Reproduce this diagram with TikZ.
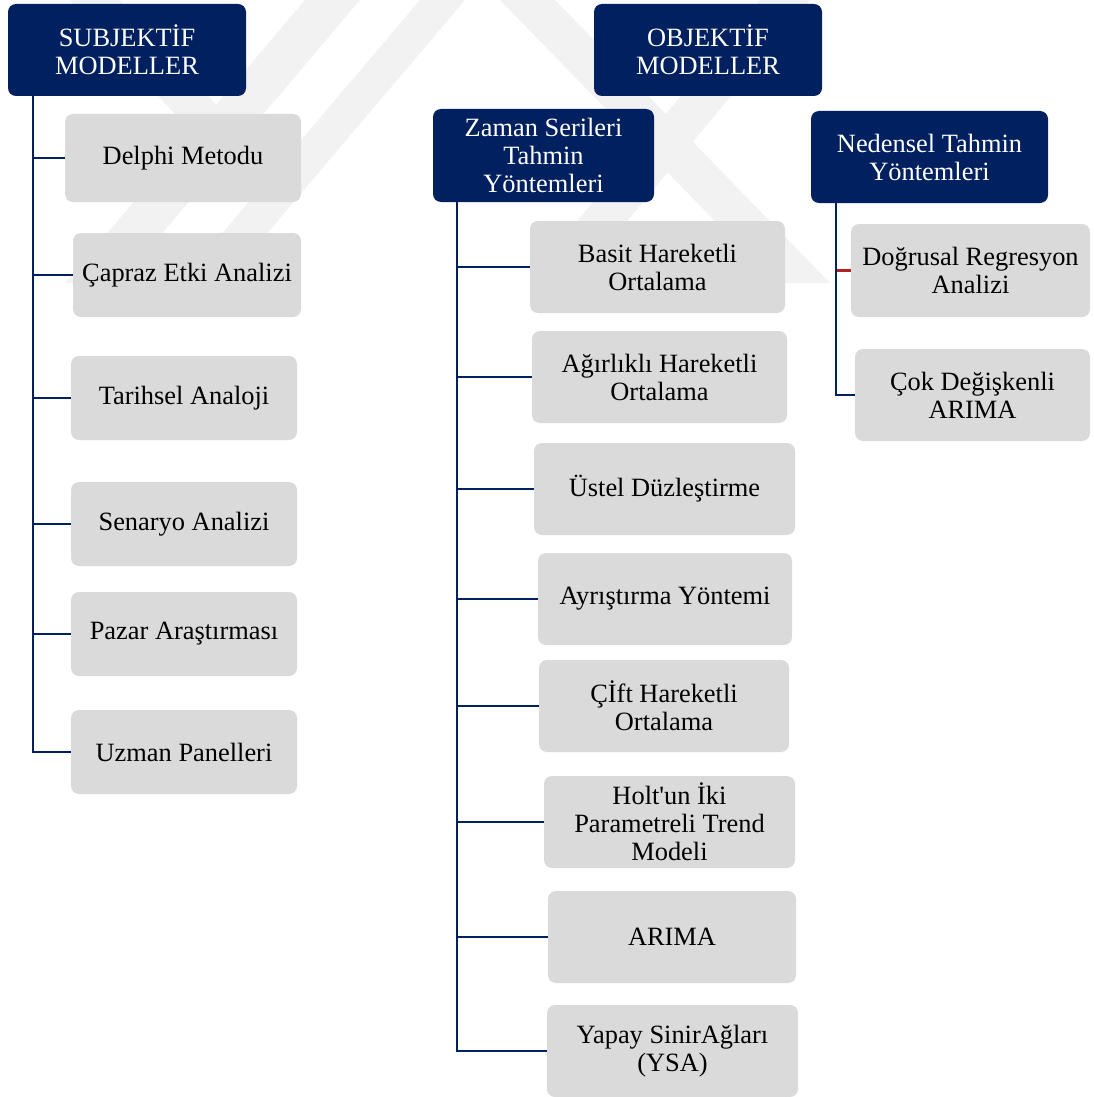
\documentclass[tikz,border=0pt]{standalone}
\usepackage{fontspec}
\setmainfont{Liberation Serif}
\definecolor{navy}{HTML}{002060}
\definecolor{boxgray}{HTML}{DADADA}
\definecolor{wm}{HTML}{F2F2F2}
\definecolor{darkred}{HTML}{B22222}
\begin{document}
\begin{tikzpicture}[x=1pt,y=-1pt,
  hdr/.style={fill=navy,draw=none,rounded corners=8pt,text=white,align=center,inner sep=0pt,font=\fontsize{26.4}{28}\selectfont},
  item/.style={fill=boxgray,draw=none,rounded corners=8pt,text=black,align=center,inner sep=0pt,font=\fontsize{26.4}{28}\selectfont},
  trunk/.style={draw=navy,line width=2.8pt},
  conn/.style={draw=navy,line width=2.3pt},
  redconn/.style={draw=darkred,line width=2.3pt}]
\useasboundingbox (0,0) rectangle (1093,1097);
% faint watermark
\begin{scope}
\clip (0,0) rectangle (1093,283);
\fill[wm] (70,0) -- (120,0) -- (235,125) -- (185,125) -- cycle;
\fill[wm] (305,0) -- (360,0) -- (120,283) -- (65,283) -- cycle;
\fill[wm] (420,0) -- (465,0) -- (225,283) -- (180,283) -- cycle;
\fill[wm] (500,0) -- (555,0) -- (830,283) -- (775,283) -- cycle;
\fill[wm] (760,0) -- (810,0) -- (620,230) -- (570,230) -- cycle;
\end{scope}
% headers
\node[hdr,minimum width=238pt,minimum height=92pt] (subj) at (127,50) {SUBJEKTİF\\MODELLER};
\node[hdr,minimum width=228pt,minimum height=92pt] (obj) at (708,50) {OBJEKTİF\\MODELLER};
\node[hdr,minimum width=221pt,minimum height=93pt] (zaman) at (543.5,155.5) {Zaman Serileri\\Tahmin\\Yöntemleri};
\node[hdr,minimum width=237pt,minimum height=92pt] (neden) at (929.5,157) {Nedensel Tahmin\\Yöntemleri};
% left items
\node[item,minimum width=236pt,minimum height=88pt] (delphi) at (183,158) {Delphi Metodu};
\node[item,minimum width=228pt,minimum height=84pt] (capraz) at (187,275) {Çapraz Etki Analizi};
\node[item,minimum width=226pt,minimum height=84pt] (tarih) at (184,398) {Tarihsel Analoji};
\node[item,minimum width=226pt,minimum height=84pt] (senaryo) at (184,524) {Senaryo Analizi};
\node[item,minimum width=226pt,minimum height=84pt] (pazar) at (184,634) {Pazar Araştırması};
\node[item,minimum width=226pt,minimum height=84pt] (uzman) at (184,752) {Uzman Panelleri};
% middle items
\node[item,minimum width=255pt,minimum height=92pt] (basit) at (657.5,267) {Basit Hareketli\\Ortalama};
\node[item,minimum width=255pt,minimum height=92pt] (agir) at (659.5,377) {Ağırlıklı Hareketli\\Ortalama};
\node[item,minimum width=261pt,minimum height=92pt] (ustel) at (664.5,489) {Üstel Düzleştirme};
\node[item,minimum width=254pt,minimum height=92pt] (ayris) at (665,599) {Ayrıştırma Yöntemi};
\node[item,minimum width=250pt,minimum height=92pt] (cift) at (664,706) {Çİft Hareketli\\Ortalama};
\node[item,minimum width=251pt,minimum height=92pt] (holt) at (669.5,822) {Holt\textquotesingle un İki\\Parametreli Trend\\Modeli};
\node[item,minimum width=248pt,minimum height=92pt] (arima) at (672,937) {ARIMA};
\node[item,minimum width=251pt,minimum height=92pt] (ysa) at (672.5,1051) {Yapay SinirAğları\\(YSA)};
% right items
\node[item,minimum width=239pt,minimum height=93pt] (dogru) at (970.5,270.5) {Doğrusal Regresyon\\Analizi};
\node[item,minimum width=235pt,minimum height=92pt] (cok) at (972.5,395) {Çok Değişkenli\\ARIMA};
% trunks
\coordinate (ls) at (33,96);
\coordinate (ms) at (457,202);
\coordinate (rs) at (836,203);
\draw[trunk] (ls) |- (uzman.west);
\foreach \n in {delphi,capraz,tarih,senaryo,pazar}{\draw[conn] (ls |- \n.west) -- (\n.west);}
\draw[trunk] (ms) |- (ysa.west);
\foreach \n in {basit,agir,ustel,ayris,cift,holt,arima}{\draw[conn] (ms |- \n.west) -- (\n.west);}
\draw[trunk] (rs) |- (cok.west);
\draw[redconn] ([xshift=1.4pt]rs |- dogru.west) -- (dogru.west);
\end{tikzpicture}
\end{document}
